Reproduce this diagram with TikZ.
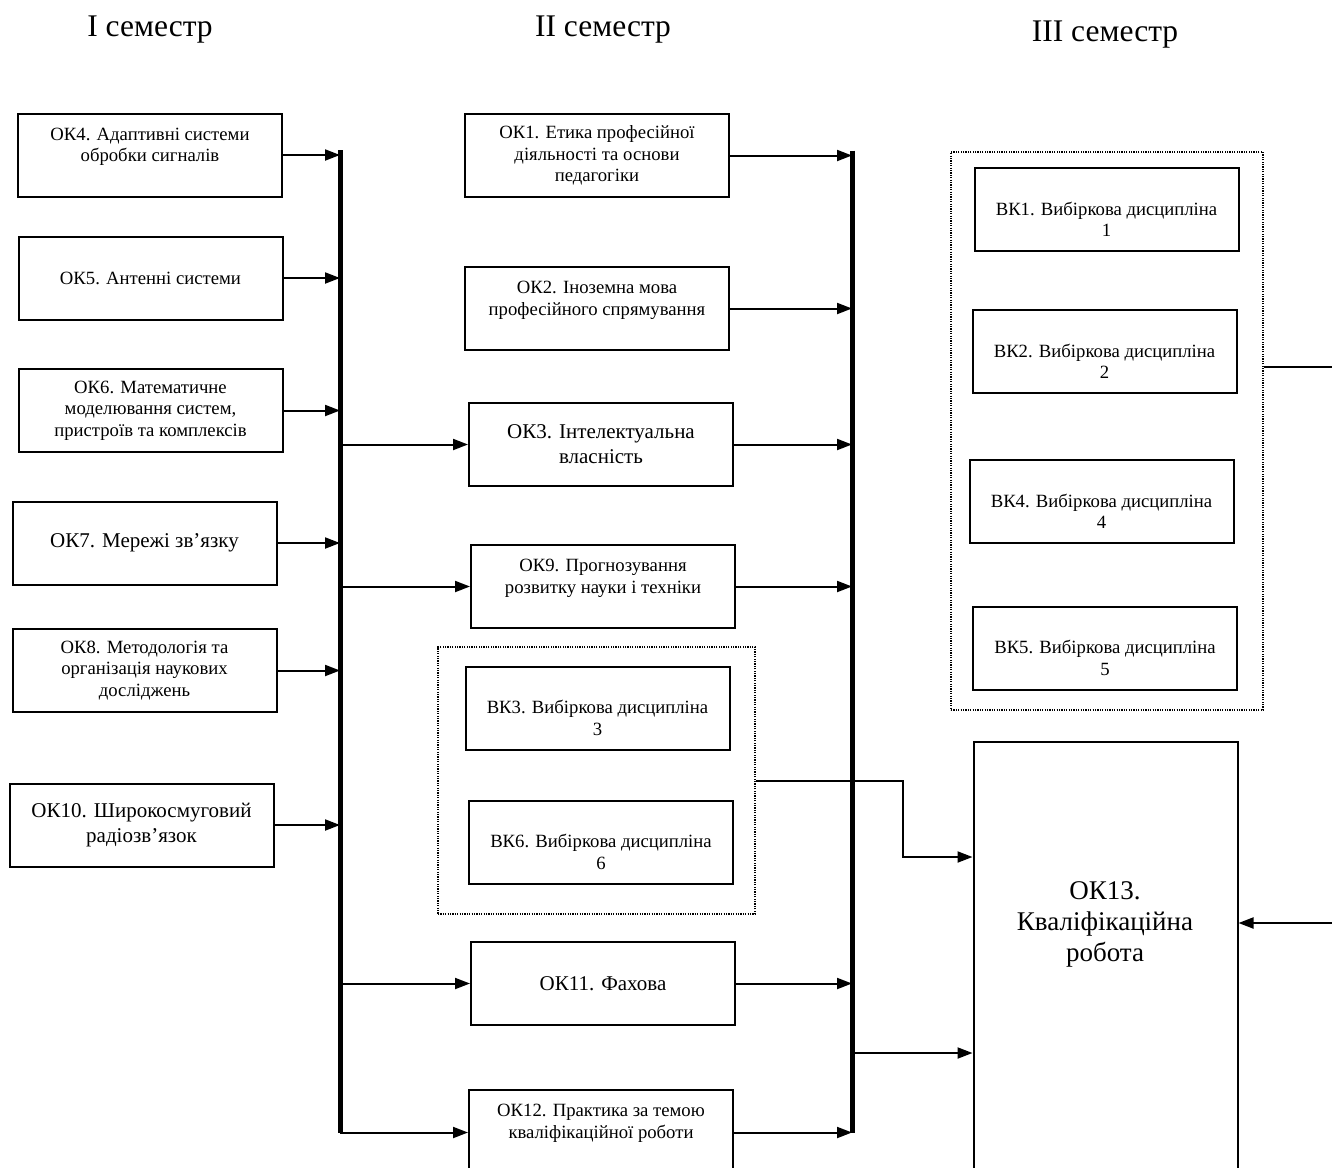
\documentclass[tikz,border=0pt]{standalone}
\usepackage{fontspec}
\setmainfont{Liberation Serif}
\usetikzlibrary{arrows.meta}

\tikzset{
  box/.style={draw, line width=2pt, minimum width=264pt, minimum height=83pt,
    align=center, inner sep=2pt, font=\fontsize{18.7}{21.5}\selectfont},
  mbox/.style={box, font=\fontsize{21}{25}\selectfont},
  lbl/.style={align=center, inner sep=0pt, font=\fontsize{18.7}{21.5}\selectfont},
  tbox/.style 2 args={box, label={[lbl, yshift=#1]center:#2}},
  grp/.style={draw, line width=1.5pt, dash pattern=on 1.2pt off 1.2pt},
  arr/.style={line width=2pt, -{Triangle[length=15pt,width=11pt]}},
  bus/.style={line width=5pt},
  sem/.style={font=\fontsize{31.5}{36}\selectfont}
}

\begin{document}
\begin{tikzpicture}[x=1pt,y=-1pt]
\useasboundingbox (0,0) rectangle (1332,1167);
\clip (0,0) rectangle (1332,1167);
% semesters
\node[sem] (s1) at (150,30) {I семестр};
\node[sem] (s2) at (603,30) {II семестр};
\node[sem] (s3) at (1105,35) {III семестр};

% I semester
\node[tbox={8pt}{ОК4. Адаптивні системи\\обробки сигналів}] (ok4) at (150,155) {};
\node[box] (ok5) at (150.5,278) {ОК5. Антенні системи};
\node[box] (ok6) at (150.5,410.5) {ОК6. Математичне\\моделювання систем,\\пристроїв та комплексів};
\node[mbox] (ok7) at (144.5,543) {ОК7. Мережі зв’язку};
\node[box] (ok8) at (144.5,670.5) {ОК8. Методологія та\\організація наукових\\досліджень};
\node[mbox] (ok10) at (141.5,825) {ОК10. Широкосмуговий\\радіозв’язок};

% II semester
\node[box] (ok1) at (597,155.5) {ОК1. Етика професійної\\діяльності та основи\\педагогіки};
\node[tbox={8pt}{ОК2. Іноземна мова\\професійного спрямування}] (ok2) at (597,308.5) {};
\node[mbox] (ok3) at (601,444.5) {ОК3. Інтелектуальна\\власність};
\node[tbox={8pt}{ОК9. Прогнозування\\розвитку науки і техніки}] (ok9) at (603,586.5) {};
\node[grp, minimum width=317pt, minimum height=267pt] (g2) at (596.5,780.5) {};
\node[tbox={-10pt}{ВК3. Вибіркова дисципліна\\3}] (bk3) at (597.5,708) {};
\node[tbox={-10pt}{ВК6. Вибіркова дисципліна\\6}] (bk6) at (601,842) {};
\node[mbox] (ok11) at (603,983.5) {ОК11. Фахова};
\node[tbox={9pt}{ОК12. Практика за темою\\кваліфікаційної роботи}, minimum height=85pt] (ok12) at (601,1132.5) {};

% III semester
\node[grp, minimum width=312pt, minimum height=558pt] (g3) at (1107,431) {};
\node[tbox={-10pt}{ВК1. Вибіркова дисципліна\\1}] (bk1) at (1106.5,209.5) {};
\node[tbox={-10pt}{ВК2. Вибіркова дисципліна\\2}] (bk2) at (1104.5,351.5) {};
\node[tbox={-10pt}{ВК4. Вибіркова дисципліна\\4}] (bk4) at (1101.5,501.5) {};
\node[tbox={-10pt}{ВК5. Вибіркова дисципліна\\5}] (bk5) at (1105,648) {};
\node[box, minimum height=438pt] (ok13) at (1105.5,961) {};
\node[font=\fontsize{27}{31}\selectfont, align=center] (ok13t) at (1105,924)
  {ОК13.\\Кваліфікаційна\\робота};

% buses
\coordinate (bus1) at (340,0);
\coordinate (bus2) at (852,0);
\draw[bus] ([yshift=5pt]ok4.east -| bus1) -- (ok12.west -| bus1);
\draw[bus] ([yshift=5pt]ok1.east -| bus2) -- (ok12.east -| bus2);

\foreach \n in {ok4,ok5,ok6,ok7,ok8,ok10}
  \draw[arr] (\n.east) -- (\n.east -| bus1);
\foreach \n in {ok3,ok9,ok11,ok12}
  \draw[arr] (\n.west -| bus1) -- (\n.west);
\foreach \n in {ok1,ok2,ok3,ok9,ok11,ok12}
  \draw[arr] (\n.east) -- (\n.east -| bus2);

% into OK13
\coordinate (j1) at (903,857);
\coordinate (j2) at (852,1053);
\coordinate (j3) at (1350,367);
\coordinate (j4) at (1350,923);
\draw[arr] (g2.east) -| (j1) -- (j1 -| ok13.west);
\draw[arr] (j2) -- (j2 -| ok13.west);
\draw[arr] (g3.east |- j3) -- (j3) -- (j4) -- (j4 -| ok13.east);
\end{tikzpicture}
\end{document}
